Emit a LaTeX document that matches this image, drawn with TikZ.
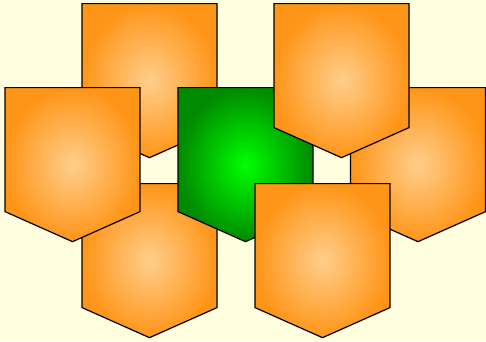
\documentclass[tikz,border=0pt]{standalone}
\usepackage{tikz}
\usetikzlibrary{shapes.symbols}
\definecolor{bgyellow}{HTML}{FFFFE0}
\definecolor{tagdark}{HTML}{FF9518}
\definecolor{taglight}{HTML}{FFCE8C}
\definecolor{greendark}{HTML}{008A00}
\definecolor{greenlight}{HTML}{00FF00}
\tikzstyle{tag}   = [signal, signal to=south, signal from=nowhere, signal pointer angle=132, minimum width=135pt, minimum height=124pt, inner sep=0pt, draw=black, line width=1.2pt, shading=radial, inner color=taglight, outer color=tagdark]
\tikzstyle{green} = [tag, inner color=greenlight, outer color=greendark]

\begin{document}
\begin{tikzpicture}[x=1pt, y=-1pt]

\fill[bgyellow] (0,0) rectangle (486,341);
\useasboundingbox (0,0) rectangle (486,341);

\node (topleft)     [tag, anchor=north] at (149.5,3)   {};
\node (bottomleft)  [tag, anchor=north] at (149.5,183) {};
\node (right)       [tag, anchor=north] at (418,87)    {};
\node (left)        [tag, anchor=north] at (72.5,87)   {};
\node (middle)      [green, anchor=north] at (245.5,87) {};
\node (topright)    [tag, anchor=north] at (341.5,3)   {};
\node (bottomright) [tag, anchor=north] at (322.5,183) {};

\end{tikzpicture}
\end{document}
